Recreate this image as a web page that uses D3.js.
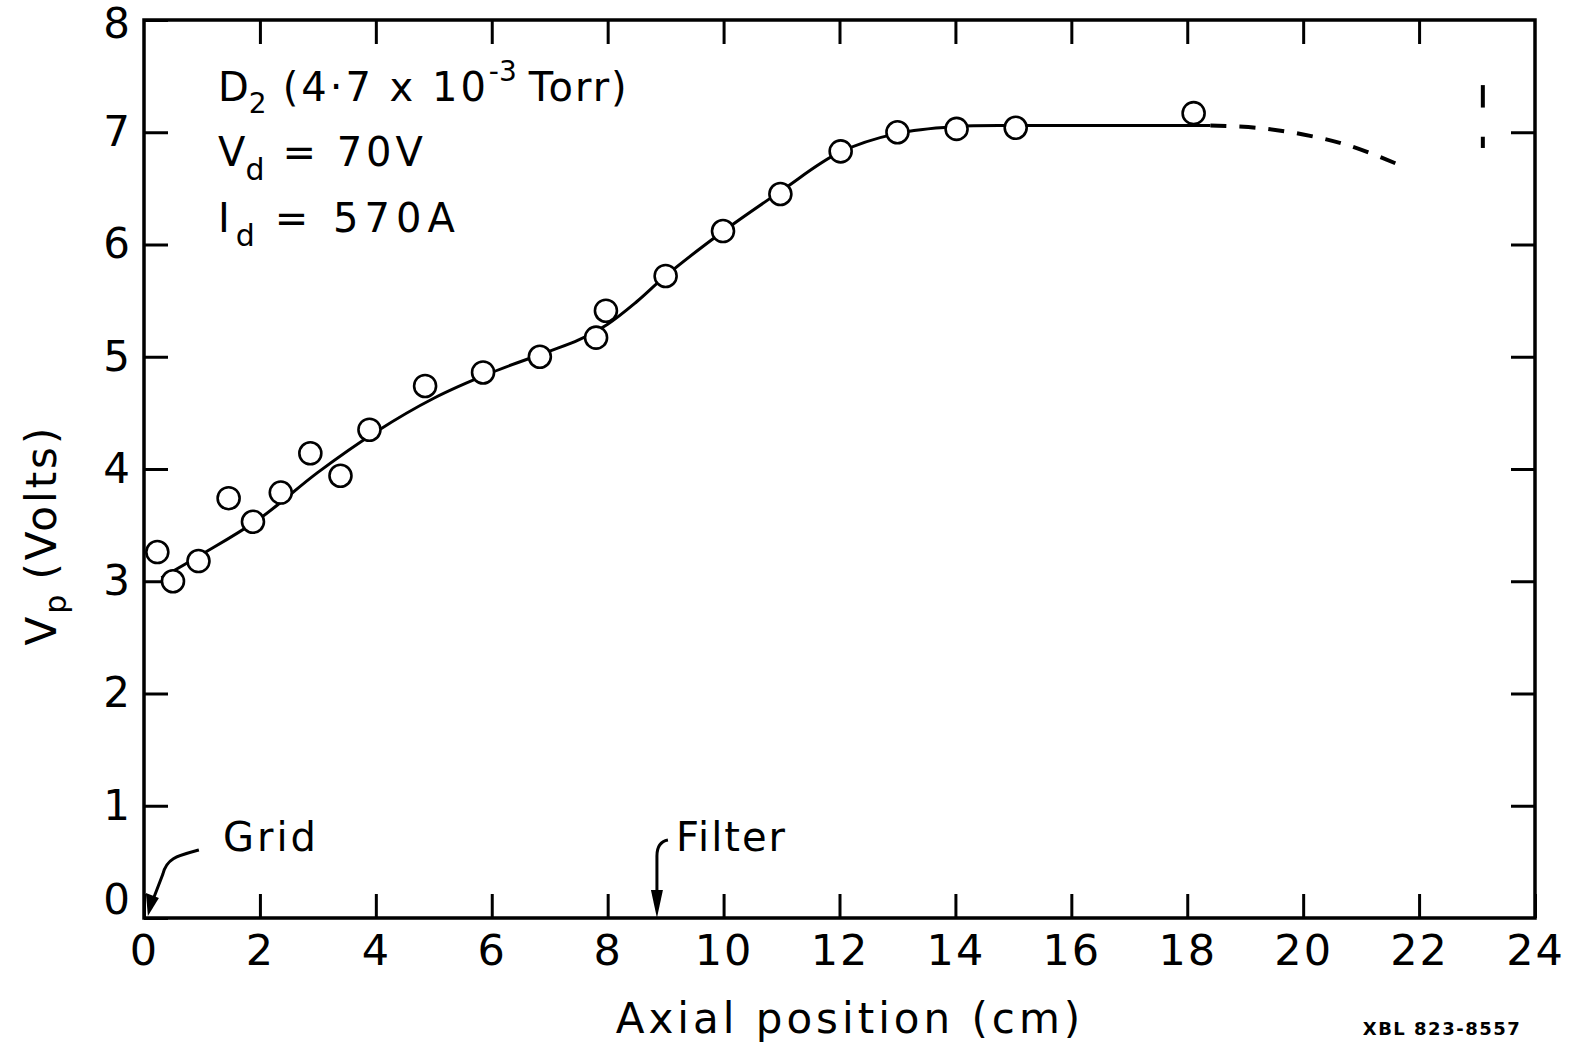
<!DOCTYPE html>
<html>
<head>
<meta charset="utf-8">
<script src="https://cdn.jsdelivr.net/npm/d3@7"></script>
<style>
  html, body { margin: 0; padding: 0; background: #fff; }
  svg { display: block; }
  text { font-family: "DejaVu Sans", sans-serif; fill: #000; }
</style>
</head>
<body>
<div id="chart"></div>
<script>
// measured points: axial position (cm) vs plasma potential (V)
var pointX = [0.23, 0.50, 0.94, 1.46, 1.88, 2.36, 2.87, 3.39, 3.89, 4.85, 5.85, 6.83, 7.80, 7.97, 9.00, 9.99, 10.98, 12.02, 13.00, 14.02, 15.04, 18.11];
var pointY = [3.26, 3.00, 3.18, 3.74, 3.53, 3.79, 4.14, 3.94, 4.35, 4.74, 4.86, 5.00, 5.17, 5.41, 5.72, 6.12, 6.45, 6.83, 7.00, 7.03, 7.04, 7.17];

// hand drawn fit, solid part then dashed extrapolation
var fitX = [0.3, 1, 2, 3, 4, 5, 6, 7, 7.5, 8, 8.5, 9, 10, 11, 12, 13, 14, 15, 16, 17, 18.4];
var fitY = [3.03, 3.24, 3.56, 3.97, 4.33, 4.63, 4.86, 5.05, 5.15, 5.29, 5.49, 5.72, 6.12, 6.48, 6.82, 6.99, 7.05, 7.06, 7.06, 7.06, 7.06];
var dashX = [18.4, 19.2, 20.0, 20.8, 21.7];
var dashY = [7.06, 7.04, 6.98, 6.88, 6.70];

// small bracket mark near the right edge
var markX = 23.1;
var markY = [[7.42, 7.22], [6.96, 6.86]];

var xTicks = [0, 2, 4, 6, 8, 10, 12, 14, 16, 18, 20, 22, 24];
var yTicks = [0, 1, 2, 3, 4, 5, 6, 7, 8];

var gridX = 0.05, filterX = 8.85;

var W = 1578, H = 1050;
var mLeft = 144, mRight = 1535, mTop = 20, mBottom = 918;

var svg = d3.select('#chart').append('svg')
    .attr('width', W).attr('height', H);

var x = d3.scaleLinear().domain([0, 24]).range([mLeft, mRight]);
var y = d3.scaleLinear().domain([0, 8]).range([mBottom, mTop]);

function styleAxis(g) {
  g.select('.domain').remove();
  g.selectAll('.tick line').attr('stroke', '#000').attr('stroke-width', 3);
}

// frame
svg.append('rect')
  .attr('x', mLeft).attr('y', mTop)
  .attr('width', mRight - mLeft).attr('height', mBottom - mTop)
  .attr('fill', 'none').attr('stroke', '#000').attr('stroke-width', 3.5);

var tickLen = 24;

var gx = svg.append('g').attr('transform', 'translate(0,' + mBottom + ')')
  .call(d3.axisBottom(x).tickValues(xTicks).tickSize(-tickLen).tickPadding(16).tickFormat(d3.format('d')));
styleAxis(gx);
gx.selectAll('text').attr('font-size', 43).attr('letter-spacing', 2);

var gxt = svg.append('g').attr('transform', 'translate(0,' + mTop + ')')
  .call(d3.axisTop(x).tickValues(xTicks.slice(1, -1)).tickSize(-tickLen).tickFormat(''));
styleAxis(gxt);

var gy = svg.append('g').attr('transform', 'translate(' + mLeft + ',0)')
  .call(d3.axisLeft(y).tickValues(yTicks).tickSize(-tickLen).tickPadding(14).tickFormat(d3.format('d')));
styleAxis(gy);
gy.selectAll('text').attr('font-size', 42);
gy.selectAll('.tick').filter(function(d) { return d === 0; })
  .select('text').attr('dy', '-0.1em');
gy.selectAll('.tick').filter(function(d) { return d === 8; })
  .select('text').attr('dy', '0.42em');

var gyr = svg.append('g').attr('transform', 'translate(' + mRight + ',0)')
  .call(d3.axisRight(y).tickValues(yTicks.slice(1, -1)).tickSize(-tickLen).tickFormat(''));
styleAxis(gyr);

// fitted curve
var line = d3.line()
  .x(function(d) { return x(d[0]); })
  .y(function(d) { return y(d[1]); })
  .curve(d3.curveCatmullRom);

svg.append('path')
  .datum(d3.zip(fitX, fitY))
  .attr('d', line)
  .attr('fill', 'none').attr('stroke', '#000').attr('stroke-width', 3);

svg.append('path')
  .datum(d3.zip(dashX, dashY))
  .attr('d', line)
  .attr('fill', 'none').attr('stroke', '#000').attr('stroke-width', 4)
  .attr('stroke-dasharray', '16,13');

markY.forEach(function(m) {
  svg.append('line')
    .attr('x1', x(markX)).attr('x2', x(markX))
    .attr('y1', y(m[0])).attr('y2', y(m[1]))
    .attr('stroke', '#000').attr('stroke-width', 4);
});

// points
svg.append('g').selectAll('circle')
  .data(d3.zip(pointX, pointY))
  .enter().append('circle')
  .attr('cx', function(d) { return x(d[0]); })
  .attr('cy', function(d) { return y(d[1]); })
  .attr('r', 11)
  .attr('fill', '#fff').attr('stroke', '#000').attr('stroke-width', 2.6);

// annotation text
var note = svg.append('g').attr('font-size', 40);
var t1 = note.append('text').attr('x', 218).attr('y', 101);
t1.append('tspan').text('D');
t1.append('tspan').attr('font-size', 28).attr('dy', 12).text('2');
t1.append('tspan').attr('dy', -12).attr('dx', 16).attr('letter-spacing', 3).text('(4·7 x 10');
t1.append('tspan').attr('font-size', 28).attr('dy', -20).text('-3');
t1.append('tspan').attr('dy', 20).attr('dx', 12).attr('letter-spacing', 2).text('Torr)');

var t2 = note.append('text').attr('x', 218).attr('y', 166);
t2.append('tspan').text('V');
t2.append('tspan').attr('font-size', 30).attr('dy', 14).text('d');
t2.append('tspan').attr('dy', -14).attr('dx', 18).attr('letter-spacing', 4).text('= 70V');

var t3 = note.append('text').attr('x', 218).attr('y', 232);
t3.append('tspan').text('I');
t3.append('tspan').attr('font-size', 30).attr('dy', 14).attr('dx', 6).text('d');
t3.append('tspan').attr('dy', -14).attr('dx', 20).attr('letter-spacing', 6).text('= 570A');

// Grid / Filter arrows
svg.append('text').attr('x', 223).attr('y', 851).attr('font-size', 40)
  .attr('letter-spacing', 3).text('Grid');
svg.append('text').attr('x', 676).attr('y', 851).attr('font-size', 40)
  .attr('letter-spacing', 2).text('Filter');

var gxp = x(gridX), fxp = x(filterX);
svg.append('path')
  .attr('d', 'M' + (gxp + 52) + ',' + 850 + ' C' + (gxp + 30) + ',' + 856 + ' ' + (gxp + 20) + ',' + 858 + ' ' + (gxp + 16) + ',' + 874 + ' L' + (gxp + 6) + ',' + 900)
  .attr('fill', 'none').attr('stroke', '#000').attr('stroke-width', 3);
svg.append('path')
  .attr('d', 'M' + (gxp + 1) + ',' + 916 + ' L' + (gxp - 1) + ',' + 893 + ' L' + (gxp + 12) + ',' + 898 + 'Z')
  .attr('fill', '#000');

svg.append('path')
  .attr('d', 'M' + (fxp + 11) + ',' + 840 + ' Q' + fxp + ',' + 842 + ' ' + fxp + ',' + 856 + ' L' + fxp + ',' + 895)
  .attr('fill', 'none').attr('stroke', '#000').attr('stroke-width', 3);
svg.append('path')
  .attr('d', 'M' + fxp + ',' + 918 + ' L' + (fxp - 6) + ',' + 890 + ' L' + (fxp + 6) + ',' + 890 + 'Z')
  .attr('fill', '#000');

// axis titles
svg.append('text')
  .attr('x', 850).attr('y', 1033)
  .attr('text-anchor', 'middle').attr('font-size', 42).attr('letter-spacing', 4)
  .text('Axial position (cm)');

var yl = svg.append('text')
  .attr('transform', 'translate(56,535) rotate(-90)')
  .attr('text-anchor', 'middle').attr('font-size', 42).attr('letter-spacing', 3);
yl.append('tspan').text('V');
yl.append('tspan').attr('font-size', 30).attr('dy', 10).text('p');
yl.append('tspan').attr('dy', -10).attr('dx', 12).text('(Volts)');

svg.append('text')
  .attr('x', 1442).attr('y', 1035)
  .attr('text-anchor', 'middle').attr('font-size', 18).attr('font-weight', 'bold')
  .attr('letter-spacing', 1.5)
  .text('XBL 823-8557');
</script>
</body>
</html>
